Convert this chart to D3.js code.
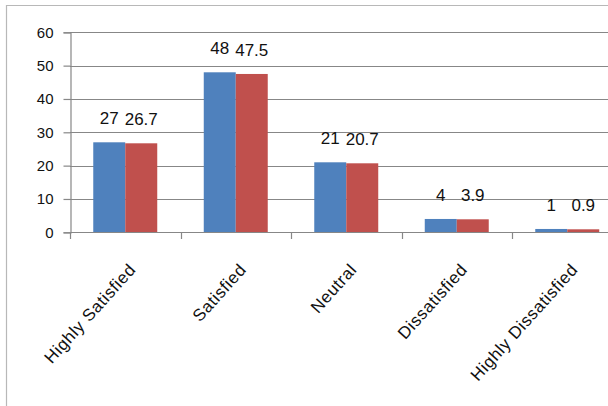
<!DOCTYPE html>
<html>
<head>
<meta charset="utf-8">
<script src="https://cdn.jsdelivr.net/npm/d3@7"></script>
<style>
  html, body { margin: 0; padding: 0; background: #fff; }
  svg { display: block; }
  text { font-family: "Liberation Sans", Arial, sans-serif; fill: #111; }
</style>
</head>
<body>
<svg id="chart" width="608" height="406"></svg>
<script>
// Satisfaction levels and the two series (count and percentage)
const categories = ["Highly Satisfied", "Satisfied", "Neutral", "Dissatisfied", "Highly Dissatisfied"];
const seriesNames = ["Count", "Percent"];
const countValues = [27, 48, 21, 4, 1];
const percentValues = [26.7, 47.5, 20.7, 3.9, 0.9];
const yTicks = [0, 10, 20, 30, 40, 50, 60];
const seriesColors = ["#4F81BD", "#C0504D"];

const svg = d3.select("#chart");
const W = 608, H = 406;

// chart area frame (left and top edges show inside the view)
svg.append("path")
  .attr("d", "M6.5,406 V5.5 H608")
  .attr("fill", "none")
  .attr("stroke", "#b8b8b8")
  .attr("stroke-width", 1.2);

const plot = { left: 70, right: 622.5, top: 32.3, bottom: 232.3 };

const y = d3.scaleLinear().domain([0, 60]).range([plot.bottom, plot.top]);
const x0 = d3.scaleBand().domain(categories).range([plot.left, plot.right]).padding(0);
const x1 = d3.scaleBand().domain(seriesNames).range([0, x0.bandwidth()])
  .paddingInner(0).paddingOuter(0.727);
const color = d3.scaleOrdinal().domain(seriesNames).range(seriesColors);

const rows = categories.map((c, i) => ({
  category: c,
  values: [
    { name: seriesNames[0], value: countValues[i] },
    { name: seriesNames[1], value: percentValues[i] }
  ]
}));

// horizontal gridlines
svg.append("g")
  .selectAll("line")
  .data(yTicks.filter(t => t > 0))
  .join("line")
  .attr("x1", plot.left).attr("x2", W)
  .attr("y1", d => Math.round(y(d)) + 0.5).attr("y2", d => Math.round(y(d)) + 0.5)
  .attr("stroke", "#878787").attr("stroke-width", 1.2);

// y axis
const yAxis = svg.append("g")
  .attr("transform", `translate(${plot.left + 0.5},0)`)
  .call(d3.axisLeft(y).tickValues(yTicks).tickSize(7).tickPadding(10).tickFormat(d3.format("d")));
yAxis.select(".domain").attr("stroke", "#878787").attr("stroke-width", 1.2);
yAxis.selectAll(".tick line").attr("stroke", "#878787").attr("stroke-width", 1.2);
yAxis.selectAll(".tick text").style("font-size", "15px").attr("fill", "#111");

// bars
const groups = svg.append("g")
  .selectAll("g")
  .data(rows)
  .join("g")
  .attr("transform", d => `translate(${x0(d.category)},0)`);

groups.selectAll("rect")
  .data(d => d.values)
  .join("rect")
  .attr("x", d => x1(d.name))
  .attr("width", x1.bandwidth())
  .attr("y", d => y(d.value))
  .attr("height", d => y(0) - y(d.value))
  .attr("fill", d => color(d.name));

// value labels above each bar
groups.selectAll("text.val")
  .data(d => d.values)
  .join("text")
  .attr("class", "val")
  .attr("x", d => x1(d.name) + x1.bandwidth() / 2)
  .attr("y", d => y(d.value) - 18)
  .attr("text-anchor", "middle")
  .style("font-size", "17px")
  .text(d => d.value);

// x axis line and category boundary ticks
const xAxisG = svg.append("g");
xAxisG.append("line")
  .attr("x1", plot.left).attr("x2", W)
  .attr("y1", Math.round(y(0)) + 0.5).attr("y2", Math.round(y(0)) + 0.5)
  .attr("stroke", "#878787").attr("stroke-width", 1.2);
xAxisG.selectAll("line.tick")
  .data(categories)
  .join("line")
  .attr("class", "tick")
  .attr("x1", d => Math.round(x0(d)) + 0.5).attr("x2", d => Math.round(x0(d)) + 0.5)
  .attr("y1", Math.round(y(0))).attr("y2", Math.round(y(0)) + 7)
  .attr("stroke", "#878787").attr("stroke-width", 1.2);

// rotated category labels
xAxisG.selectAll("text")
  .data(categories)
  .join("text")
  .attr("text-anchor", "end")
  .attr("transform", d => `translate(${x0(d) + x0.bandwidth() / 2 + 7},${y(0) + 34}) rotate(-48)`)
  .attr("dy", "0.35em")
  .style("font-size", "17px")
  .style("letter-spacing", "0.6px")
  .text(d => d);
</script>
</body>
</html>
